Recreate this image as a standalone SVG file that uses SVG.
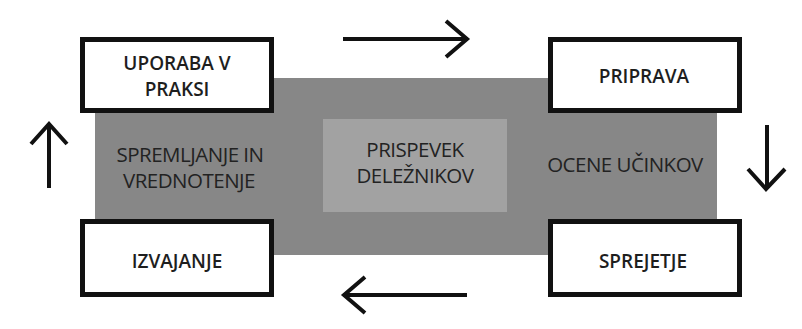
<svg xmlns="http://www.w3.org/2000/svg" width="802" height="329" viewBox="0 0 802 329">
<style>
.box{fill:#fff;stroke:#111;stroke-width:5}
.lbl{font-family:"Open Sans","Liberation Sans",sans-serif;font-size:19px;font-weight:600;fill:#1e1e1e;text-anchor:middle}
.glbl{font-family:"Open Sans","Liberation Sans",sans-serif;font-size:20.5px;font-weight:400;fill:#222;text-anchor:middle;letter-spacing:-0.5px}
.arr{fill:none;stroke:#111;stroke-width:4;stroke-linecap:butt;stroke-linejoin:miter}
</style>
<rect width="802" height="329" fill="#fff"/>
<g id="background">
<rect x="95" y="78" width="622" height="177" fill="#878787"/>
</g>
<g id="prispevek">
<rect x="323" y="119" width="184" height="93" fill="#a2a2a2"/>
<text class="glbl" x="415" y="157">PRISPEVEK</text>
<text class="glbl" x="415" y="183">DELEŽNIKOV</text>
</g>
<g id="spremljanje">
<text class="glbl" x="190" y="162">SPREMLJANJE IN</text>
<text class="glbl" x="189" y="188">VREDNOTENJE</text>
</g>
<g id="ocene">
<text class="glbl" x="625" y="172">OCENE UČINKOV</text>
</g>
<g id="uporaba">
<rect class="box" x="82.5" y="39.5" width="189" height="71"/>
<text class="lbl" x="177" y="70">UPORABA V</text>
<text class="lbl" x="177" y="96">PRAKSI</text>
</g>
<g id="priprava">
<rect class="box" x="550.5" y="39.5" width="189" height="71"/>
<text class="lbl" x="644" y="83">PRIPRAVA</text>
</g>
<g id="izvajanje">
<rect class="box" x="82.5" y="221.5" width="189" height="73"/>
<text class="lbl" x="177" y="268">IZVAJANJE</text>
</g>
<g id="sprejetje">
<rect class="box" x="550.5" y="221.5" width="189" height="73"/>
<text class="lbl" x="643" y="268">SPREJETJE</text>
</g>
<g id="connectors">
<path class="arr" d="M343 39 H466 M446 21 L467 39 L446 57"/>
<path class="arr" d="M767 125 V188 M748 169 L766 189 L785 169"/>
<path class="arr" d="M467 295 H345 M365 277 L344 295 L365 313"/>
<path class="arr" d="M49 188 V125 M31 144 L49 124 L67 144"/>
</g>
</svg>
